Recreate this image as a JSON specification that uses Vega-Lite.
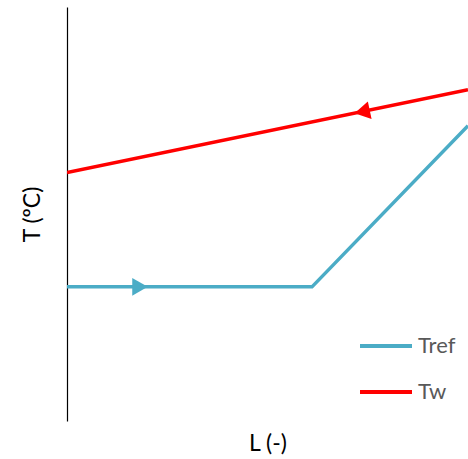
{
  "$schema": "https://vega.github.io/schema/vega-lite/v6.json",
  "autosize": "none",
  "width": 401,
  "height": 414,
  "padding": {"left": 67, "top": 7, "right": 0, "bottom": 38},
  "background": "white",
  "config": {
    "view": {"stroke": null},
    "font": "Lato"
  },
  "datasets": {
    "lines": [
      {"series": "Tref", "L": 0, "T": 32.4},
      {"series": "Tref", "L": 61.1, "T": 32.4},
      {"series": "Tref", "L": 100, "T": 71.3},
      {"series": "Tw", "L": 0, "T": 60},
      {"series": "Tw", "L": 100, "T": 80}
    ],
    "arrows": [
      {"series": "Tref", "L": 18.2, "T": 32.4, "dir": "triangle-right", "angle": 0},
      {"series": "Tw", "L": 73.6, "T": 74.7, "dir": "triangle-left", "angle": 348}
    ]
  },
  "layer": [
    {
      "data": {"name": "lines"},
      "mark": {"type": "line", "strokeWidth": 3.5, "clip": true},
      "encoding": {
        "x": {"field": "L", "type": "quantitative", "scale": {"domain": [0, 100], "nice": false, "zero": false},
          "axis": {"title": "L (-)", "domain": false, "ticks": false, "labels": false, "grid": false, "titleFontSize": 23, "titleFontWeight": "normal", "titleColor": "black", "titlePadding": 11}},
        "y": {"field": "T", "type": "quantitative", "scale": {"domain": [0, 100], "nice": false, "zero": false},
          "axis": {"title": "T (ºC)", "domain": true, "domainColor": "black", "domainWidth": 1.2, "ticks": false, "labels": false, "grid": false, "titleFontSize": 23, "titleFontWeight": "normal", "titleColor": "black", "titlePadding": 23}},
        "color": {"field": "series", "type": "nominal",
          "scale": {"domain": ["Tref", "Tw"], "range": ["#4BACC6", "#FF0000"]},
          "legend": {"title": null, "orient": "none", "legendX": 291, "legendY": 329, "symbolType": "stroke", "symbolSize": 2704, "symbolStrokeWidth": 4, "clipHeight": 20, "rowPadding": 24, "labelFontSize": 22, "labelColor": "#595959", "labelOffset": 4, "padding": 0}},
        "detail": {"field": "series"}
      }
    },
    {
      "data": {"name": "arrows"},
      "mark": {"type": "point", "filled": true, "opacity": 1, "size": 320},
      "encoding": {
        "x": {"field": "L", "type": "quantitative"},
        "y": {"field": "T", "type": "quantitative"},
        "shape": {"field": "dir", "type": "nominal", "scale": null, "legend": null},
        "angle": {"field": "angle", "type": "quantitative", "scale": null},
        "color": {"field": "series", "type": "nominal", "legend": null}
      }
    }
  ]
}
